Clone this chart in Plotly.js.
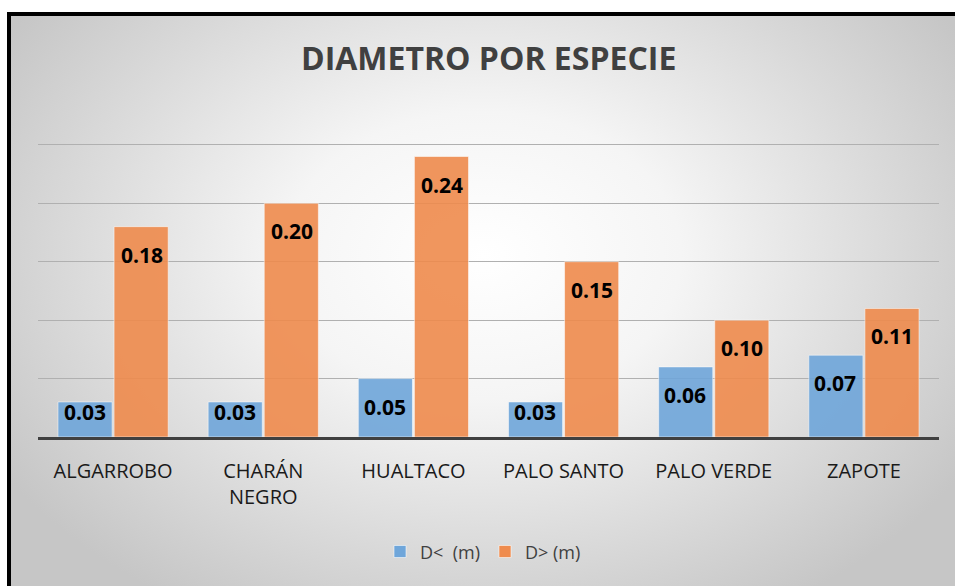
<!DOCTYPE html>
<html>
<head>
<meta charset="utf-8">
<script src="https://cdn.plot.ly/plotly-3.0.1.min.js"></script>
<style>
  html, body { margin: 0; padding: 0; background: #ffffff; width: 955px; height: 586px; overflow: hidden; }
  #frame {
    position: absolute; left: 7px; top: 12px; width: 948px; height: 574px;
    box-sizing: border-box; border-left: 4px solid #000; border-top: 4px solid #000;
    background: radial-gradient(ellipse 60% 72% at 50% 42%, #ffffff 0%, #f5f5f5 35%, #d8d8d8 75%, #c6c6c6 100%);
  }
  #chart { width: 944px; height: 570px; }
</style>
</head>
<body>
<div id="frame"><div id="chart"></div></div>
<script>
const categories = ['ALGARROBO', 'CHARÁN<br>NEGRO', 'HUALTACO', 'PALO SANTO', 'PALO VERDE', 'ZAPOTE'];
const seriesNames = ['D<&nbsp; (m)', 'D> (m)'];
const dMenor = [0.03, 0.03, 0.05, 0.03, 0.06, 0.07];
const dMayor = [0.18, 0.20, 0.24, 0.15, 0.10, 0.11];
const yTicks = [0, 0.05, 0.10, 0.15, 0.20, 0.25];

const W = 944, H = 570;
const yMax = 0.255;
const margin = {l: 27, r: 16, t: 123, b: 149};
const plotH = H - margin.t - margin.b;

const colors = ['#6fa6da', '#ef8b4d'];
const series = [dMenor, dMayor];

const traces = series.map((vals, i) => ({
  type: 'bar',
  name: seriesNames[i],
  x: categories,
  y: vals,
  marker: {color: colors[i], opacity: 0.9, line: {color: 'rgba(255,255,255,0.55)', width: 1}},
  hoverinfo: 'none'
}));

const annotations = [];
series.forEach((vals, i) => {
  vals.forEach((v, j) => {
    const h = v / yMax * plotH;
    annotations.push({
      x: categories[j], y: v, xref: 'x', yref: 'y',
      text: '<b>' + v.toFixed(2) + '</b>',
      showarrow: false,
      xshift: i === 0 ? -28.5 : 28.5,
      yshift: -Math.min(28, h - 25),
      yanchor: 'middle',
      font: {family: 'Open Sans, sans-serif', size: 21, color: '#000000'}
    });
  });
});

const layout = {
  width: W, height: H,
  margin: margin,
  paper_bgcolor: 'rgba(0,0,0,0)',
  plot_bgcolor: 'rgba(0,0,0,0)',
  barmode: 'group',
  bargap: 0.253,
  bargroupgap: 0.035,
  title: {
    text: '<b>DIAMETRO POR ESPECIE</b>',
    font: {family: 'Open Sans, sans-serif', size: 32, color: '#404040'},
    xref: 'container', x: 0.506, xanchor: 'center',
    yref: 'container', y: 0.925, yanchor: 'middle'
  },
  xaxis: {
    showline: true, linecolor: '#404040', linewidth: 3,
    tickfont: {family: 'Open Sans, sans-serif', size: 20, color: '#1a1a1a'},
    ticks: '', ticklabelstandoff: 14,
    showgrid: false, fixedrange: true
  },
  yaxis: {
    range: [0, yMax],
    tickvals: yTicks,
    showticklabels: false,
    showgrid: true, gridcolor: '#b0b0b0', gridwidth: 1,
    zeroline: false, showline: false, fixedrange: true
  },
  showlegend: true,
  legend: {
    orientation: 'h',
    xref: 'container', x: 0.5, xanchor: 'center',
    yref: 'container', y: 0.06, yanchor: 'middle',
    font: {family: 'Open Sans, sans-serif', size: 18, color: '#404040'},
    bgcolor: 'rgba(0,0,0,0)',
    itemwidth: 30
  },
  annotations: annotations
};

Plotly.newPlot('chart', traces, layout, {displayModeBar: false, staticPlot: true});
</script>
</body>
</html>
